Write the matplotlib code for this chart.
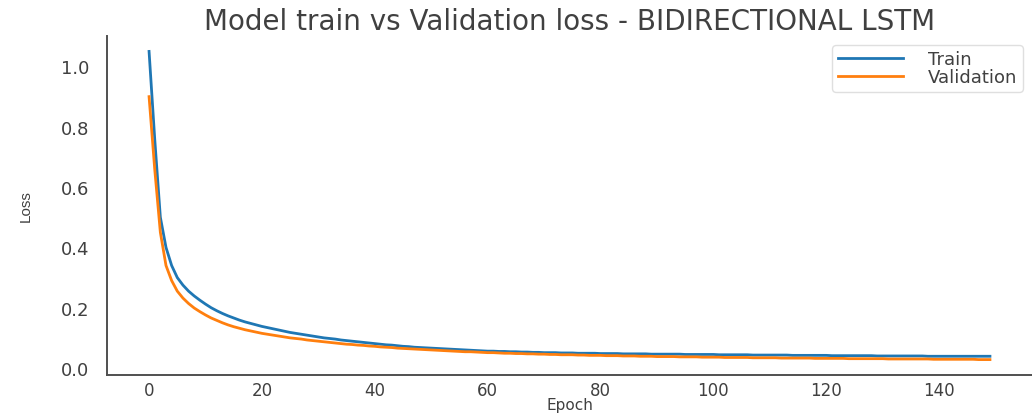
import matplotlib
matplotlib.use("Agg")
import matplotlib.pyplot as plt

epochs = list(range(150))

train_loss = [
    1.050, 0.760, 0.500, 0.400, 0.340, 0.300, 0.275, 0.255, 0.239, 0.225,
    0.212, 0.200, 0.190, 0.181, 0.173, 0.166, 0.159, 0.153, 0.148, 0.143,
    0.138, 0.134, 0.130, 0.126, 0.122, 0.118, 0.115, 0.112, 0.109, 0.106,
    0.103, 0.100, 0.098, 0.096, 0.093, 0.091, 0.089, 0.087, 0.085, 0.083,
    0.081, 0.079, 0.077, 0.076, 0.074, 0.072, 0.071, 0.069, 0.068, 0.067,
    0.066, 0.065, 0.064, 0.063, 0.062, 0.061, 0.060, 0.059, 0.058, 0.057,
    0.056, 0.056, 0.055, 0.055, 0.054, 0.054, 0.053, 0.053, 0.052, 0.052,
    0.051, 0.051, 0.051, 0.050, 0.050, 0.050, 0.049, 0.049, 0.049, 0.049,
    0.048, 0.048, 0.048, 0.048, 0.047, 0.047, 0.047, 0.047, 0.047, 0.046,
    0.046, 0.046, 0.046, 0.046, 0.046, 0.045, 0.045, 0.045, 0.045, 0.045,
    0.045, 0.044, 0.044, 0.044, 0.044, 0.044, 0.044, 0.043, 0.043, 0.043,
    0.043, 0.043, 0.043, 0.043, 0.042, 0.042, 0.042, 0.042, 0.042, 0.042,
    0.042, 0.041, 0.041, 0.041, 0.041, 0.041, 0.041, 0.041, 0.041, 0.040,
    0.040, 0.040, 0.040, 0.040, 0.040, 0.040, 0.040, 0.040, 0.039, 0.039,
    0.039, 0.039, 0.039, 0.039, 0.039, 0.039, 0.039, 0.039, 0.039, 0.039,
]

val_loss = [
    0.900, 0.660, 0.450, 0.340, 0.290, 0.255, 0.232, 0.214, 0.199, 0.187,
    0.176, 0.166, 0.158, 0.150, 0.143, 0.137, 0.132, 0.127, 0.123, 0.119,
    0.115, 0.112, 0.109, 0.106, 0.103, 0.100, 0.098, 0.096, 0.093, 0.091,
    0.089, 0.087, 0.085, 0.083, 0.081, 0.079, 0.078, 0.076, 0.075, 0.073,
    0.072, 0.070, 0.069, 0.068, 0.066, 0.065, 0.064, 0.063, 0.062, 0.061,
    0.060, 0.059, 0.058, 0.057, 0.056, 0.055, 0.054, 0.054, 0.053, 0.052,
    0.051, 0.051, 0.050, 0.049, 0.049, 0.048, 0.048, 0.047, 0.047, 0.046,
    0.046, 0.045, 0.045, 0.044, 0.044, 0.044, 0.043, 0.043, 0.042, 0.042,
    0.042, 0.041, 0.041, 0.041, 0.040, 0.040, 0.040, 0.039, 0.039, 0.039,
    0.038, 0.038, 0.038, 0.038, 0.037, 0.037, 0.037, 0.037, 0.036, 0.036,
    0.036, 0.036, 0.035, 0.035, 0.035, 0.035, 0.035, 0.034, 0.034, 0.034,
    0.034, 0.034, 0.033, 0.033, 0.033, 0.033, 0.033, 0.033, 0.032, 0.032,
    0.032, 0.032, 0.032, 0.032, 0.031, 0.031, 0.031, 0.031, 0.031, 0.031,
    0.031, 0.030, 0.030, 0.030, 0.030, 0.030, 0.030, 0.030, 0.030, 0.029,
    0.029, 0.029, 0.029, 0.029, 0.029, 0.029, 0.029, 0.028, 0.028, 0.028,
]

series_labels = ["Train", "Validation"]
title_text = "Model train vs Validation loss - BIDIRECTIONAL LSTM"
x_label = "Epoch"
y_label = "Loss"
x_ticks = [0, 20, 40, 60, 80, 100, 120, 140]
y_ticks = [0.0, 0.2, 0.4, 0.6, 0.8, 1.0]

TEXT = "#404040"
plt.rcParams["font.family"] = ["DejaVu Sans"]

fig = plt.figure(figsize=(10.32, 4.14), dpi=100)
ax = fig.add_axes([0.1037, 0.0918, 0.8963, 0.8188])

ax.plot(epochs, train_loss, color="#1f77b4", lw=2.0, label=series_labels[0])
ax.plot(epochs, val_loss, color="#ff7f0e", lw=2.0, label=series_labels[1])

ax.set_xticks(x_ticks)
ax.set_yticks(y_ticks)
ax.set_yticklabels([f"{v:.1f}" for v in y_ticks])
ax.tick_params(axis="both", length=0, labelcolor=TEXT)
ax.tick_params(axis="y", pad=13, labelsize=13)
ax.tick_params(axis="x", pad=4, labelsize=12)

for s in ["top", "right"]:
    ax.spines[s].set_visible(False)
for s in ["left", "bottom"]:
    ax.spines[s].set_color("#505050")
    ax.spines[s].set_linewidth(1.4)

ax.set_title(title_text, fontsize=20, color=TEXT, pad=5)

ax.set_ylabel(y_label, fontsize=11, color=TEXT, family=["Liberation Sans", "DejaVu Sans"])
ax.yaxis.set_label_coords(-0.08, 0.5)
ax.set_xlabel(x_label, fontsize=11, color=TEXT)
ax.xaxis.set_label_coords(0.5, -0.1106)
ax.xaxis.label.set_va("bottom")

leg = ax.legend(loc="upper right", fontsize=13, frameon=True, handlelength=3.6,
                handletextpad=1.4, borderaxespad=0.5, labelspacing=0.0,
                borderpad=0.3, fancybox=True)
leg.get_frame().set_edgecolor("#d8d8d8")
for t in leg.get_texts():
    t.set_color(TEXT)

fig.savefig("out.png", dpi=100)
